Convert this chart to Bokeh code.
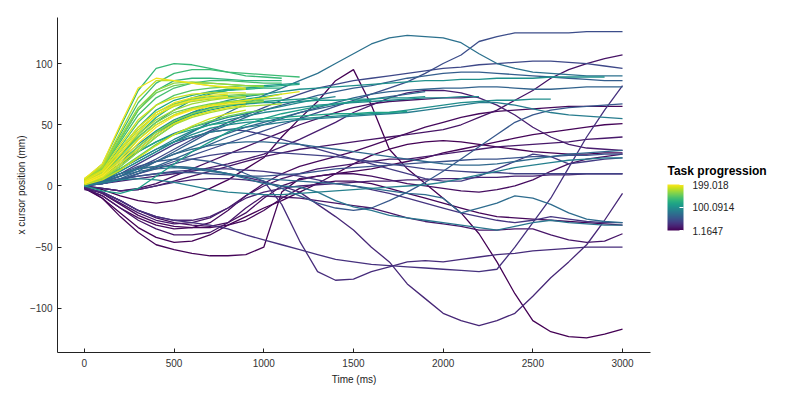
from bokeh.plotting import figure
from bokeh.models import (ColumnDataSource, LinearColorMapper, ColorBar, FixedTicker,
                          Range1d, CustomJSTickFormatter)
from bokeh.palettes import Viridis256
from bokeh.embed import file_html
from bokeh.resources import INLINE

# ---- data -------------------------------------------------------------
time_ms = list(range(0, 3100, 100))  # sample times of every trial (ms)

# task progression value of each trial (colour scale)
progression = [1.1647, 2.2, 3.5, 5.0, 6.0, 8.5, 10.0, 11.5, 13.0, 15.0, 17.0, 20.0,
               23.0, 26.0, 29.0, 32.0, 36.0, 40.0, 44.0, 48.0, 52.0, 56.0, 60.0,
               64.0, 66.0, 68.0, 71.0, 75.0, 79.0, 84.0, 87.0,
               92.0, 95.0, 98.0, 100.0914, 104.0, 107.0, 110.0, 113.0, 116.0,
               119.0, 122.0, 126.0, 130.0, 134.0, 137.0, 141.0, 144.0, 148.0, 151.0,
               153.0, 155.0, 158.0, 161.0, 164.0, 167.0, 170.0, 173.0, 176.0, 179.0,
               183.0, 185.0, 188.0, 190.0, 192.0, 195.0, 197.0, 199.018]

# x cursor position (mm) of each trial, one value per 100 ms
trial_01 = [0, -3, -8, -12, -14, -12, -8, -2, 5, 14, 23, 40, 55, 69, 86, 95, 66, 30, 14, 2, -10, -22, -39, -62, -88, -110, -119, -123, -124, -121, -117]
trial_02 = [-1, -10, -22, -34, -42, -46, -45, -40, -32, -25, -18, -12, -5, 2, 10, 18, 25, 30, 34, 36, 37, 36, 34, 32, 30, 28, 27, 26, 26, 27, 27]
trial_03 = [-2, -10, -25, -38, -48, -52, -55, -57, -57, -56, -50, -5, 6, 8, 10, 12, 14, 17, 20, 23, 27, 30, 33, 36, 39, 42, 44, 46, 48, 50, 51]
trial_04 = [-1, -6, -15, -24, -30, -33, -34, -34, -32, -28, -20, -10, -2, 2, 4, 4, 2, -2, -6, -10, -14, -18, -22, -25, -26, -27, -28, -29, -30, -31, -32]
trial_05 = [-2, -8, -18, -26, -32, -35, -34, -30, -20, -8, 2, 10, 16, 20, 24, 28, 33, 38, 43, 48, 52, 56, 59, 61, 62, 63, 64, 65, 65, 65, 65]
trial_06 = [-3, -5, -12, -20, -26, -30, -32, -33, -30, -22, -10, 0, 5, 8, 10, 10, 8, 5, 2, 0, -2, -4, -5, -3, 0, 5, 12, 18, 22, 24, 26]
trial_07 = [0, -2, -4, -2, 2, 8, 14, 20, 26, 32, 38, 44, 50, 55, 60, 64, 67, 69, 70, 71, 72, 72, 73]
trial_08 = [-1, -2, -4, -3, 0, 4, 8, 12, 16, 20, 24, 27, 30, 32, 34, 36, 38, 40, 42, 44, 46, 50, 56, 62, 70, 78, 88, 95, 100, 104, 107]
trial_09 = [-2, -8, -18, -28, -35, -40, -40, -38, -30, -18, -8, -9, -10, -12, -14, -16, -18, -22, -26, -29, -31, -33, -36, -36, -35, -35, -40, -44, -46, -45, -39]
trial_10 = [-1, -6, -14, -22, -28, -31, -30, -26, -18, -8, 0, 6, 10, 14, 16, 18, 20, 22, 22, 24, 26, 28, 30, 32, 33, 34, 35, 36, 38, 39, 40]
trial_11 = [0, 2, 4, 6, 8, 10, 12, 15, 18, 22, 26, 32, 38, 45, 52, 60, 66, 72, 76, 78, 78, 76, 72, 66, 58, 48, 40, 34, 31, 30, 29]
trial_12 = [-2, -5, -12, -20, -25, -28, -28, -25, -18, -10, -5, -2, 0, 1, 2, 3, 4, 4, 5, 5, 6, 6, 7, 7, 8, 8, 9, 9, 10, 10, 10]
trial_13 = [0, -2, -4, -3, 0, 3, 5, 6, 6, 5, 3, 0, -5, -15, -25, -36, -50, -62, -80, -92, -104, -110, -114, -110, -104, -90, -75, -62, -48, -28, -6]
trial_14 = [1, 5, 10, 14, 16, 16, 15, 13, 10, 7, 4, -15, -45, -70, -77, -76, -70, -66, -62, -61, -62, -60, -58, -56, -55, -53, -52, -51, -50, -50, -50]
trial_15 = [-1, -5, -12, -20, -25, -28, -30, -32, -35, -40, -44, -48, -52, -56, -60, -62, -64, -65, -66, -67, -68, -69, -70, -68, -50, -30, -10, 15, 40, 62, 82]
trial_16 = [1, 3, 6, 8, 10, 12, 13, 14, 14, 13, 12, 10, 8, 5, 2, 0, -3, -6, -10, -14, -18, -22, -25, -28, -30, -28, -25, -27, -29, -30, -30]
trial_17 = [0, 4, 10, 18, 26, 34, 40, 44, 46, 45, 42, 38, 34, 30, 26, 22, 18, 14, 10, 6, 4, 4, 8, 14, 20, 26, 24, 18, 20, 22, 23]
trial_18 = [0, 2, 5, 10, 14, 18, 22, 25, 27, 28, 28, 27, 26, 25, 24, 22, 20, 18, 16, 14, 13, 12, 11, 11, 10, 10, 10, 10, 10, 10, 10]
trial_19 = [1, 3, 8, 15, 22, 30, 38, 45, 52, 58, 64, 70, 75, 80, 83, 86, 88, 90, 92, 94, 96, 97, 99, 100, 101, 102, 102, 101, 100, 98, 96]
trial_20 = [0, 2, 5, 10, 15, 20, 25, 30, 35, 40, 45, 50, 55, 60, 65, 70, 75, 80, 85, 92, 100, 107, 118, 122, 125, 125, 125, 125, 126, 126, 126]
trial_21 = [0, 2, 5, 8, 10, 11, 11, 10, 9, 8, 8, 9, 10, 12, 14, 15, 16, 17, 18, 19, 20, 21, 22, 22, 23, 24, 24, 25, 25, 26, 26]
trial_22 = [1, 4, 10, 16, 20, 22, 22, 20, 16, 10, 4, -2, -8, -14, -18, -20, -18, -12, -5, 3, 12, 22, 32, 42, 52, 58, 62, 64, 65, 66, 67]
trial_23 = [2, 2, 6, 12, 20, 28, 36, 44, 50, 56, 62, 66, 70, 74, 77, 80, 82, 85, 88, 90, 92, 93, 93, 92, 91, 90, 89, 88, 87, 86, 86]
trial_24 = [1, 2, 5, 10, 16, 22, 28, 34, 40, 45, 50, 55, 60, 64, 68, 72, 75, 77, 78, 79, 80, 80, 81, 81, 80, 79, 79, 80, 81, 81, 81]
trial_25 = [0, 3, 8, 14, 20, 26, 32, 38, 43, 48, 52, 56, 60, 63, 66, 69, 71, 73, 75, 77]
trial_26 = [0, 3, 8, 14, 20, 26, 30, 33, 35, 36, 36, 35, 34, 32, 30, 28, 26, 24, 22, 20, 18, 17, 17, 18, 20, 22, 24, 26, 27, 28, 29]
trial_27 = [2, 4, 8, 12, 14, 15, 14, 12, 10, 8, 6, 5, 4, 3, 2, 0, -2, -4, -6, -7, -10, -22, -18, -14, -8, -10, -15, -22, -27, -29, -30]
trial_28 = [1, 5, 12, 20, 28, 36, 44, 52, 60, 67, 74, 80, 86, 92, 100, 108, 116, 121, 123, 122, 121, 117, 108, 100, 96, 93, 92, 91, 90, 90, 90]
trial_29 = [0, 5, 10, 14, 16, 16, 15, 13, 10, 6, 2, 0, -1, -5, -12, -17, -20, -24, -26, -28, -30, -32, -34, -36, -33, -30, -28, -30, -31, -32, -32]
trial_30 = [2, 6, 14, 22, 30, 36, 40, 44, 46, 48, 50, 52, 54, 55, 56, 57, 58, 59, 60, 62, 64, 66, 68, 68, 66, 63, 60, 58, 57, 56, 55]
trial_31 = [0, 3, 5, 6, 5, 3, 0, -3, -5, -6, -7, -7, -6, -5, -4, -3, -2, -1, 0, 1, 3, 6, 9, 12, 15, 17, 19, 21, 22, 23, 23]
trial_32 = [2, 8, 18, 28, 36, 43, 48, 52, 56, 59, 62, 65, 68, 71, 73]
trial_33 = [1, 6, 14, 22, 30, 38, 45, 50, 54, 57, 60, 62, 64, 66, 67, 68, 69, 70, 71, 72, 72, 73, 73]
trial_34 = [3, 5, 12, 20, 28, 36, 42, 47, 50, 52, 53, 54, 55, 56, 57, 58, 59, 60, 62, 64, 66, 68, 69, 70, 70, 71, 71]
trial_35 = [2, 8, 18, 30, 42, 52, 60, 66, 70, 73, 75, 77, 79, 80, 81, 82, 83, 84, 85, 86, 86, 87, 87, 88, 88, 88, 89, 89, 89, 89]
trial_36 = [3, 10, 22, 34, 45, 54, 60, 64, 66, 67, 68, 68, 69, 70, 70, 71, 71, 72, 72, 73]
trial_37 = [4, 12, 26, 40, 52, 62, 70, 75, 78, 80, 82, 83, 84]
trial_38 = [2, 9, 20, 32, 44, 52, 58, 62, 65, 67, 69, 70, 71, 72]
trial_39 = [0, -4, -6, -2, 8, 18, 28, 36, 44, 50, 55, 59, 62, 65, 67, 69, 70]
trial_40 = [3, 8, 18, 28, 36, 42, 46, 50, 52, 54, 55, 56, 57, 58, 59, 59, 60, 60, 61]
trial_41 = [2, 6, 16, 28, 40, 50, 58, 64, 68, 71, 73, 75]
trial_42 = [3, 12, 30, 48, 62, 70, 74, 77, 79, 80, 81, 82, 83]
trial_43 = [2, 10, 25, 42, 56, 66, 72, 76, 78, 79, 80, 80]
trial_44 = [4, 15, 38, 62, 78, 86, 88, 88, 87, 86, 86, 86]
trial_45 = [5, 18, 48, 78, 96, 100, 99, 96, 93, 90, 89, 88]
trial_46 = [4, 16, 42, 68, 84, 92, 95, 95, 93, 92, 91, 90, 89]
trial_47 = [3, 14, 36, 58, 72, 80, 84, 86, 86, 85, 84, 84]
trial_48 = [2, 10, 26, 44, 58, 66, 70, 72, 73, 74, 75]
trial_49 = [4, 12, 32, 52, 66, 74, 78, 80, 81, 82, 82]
trial_50 = [3, 8, 22, 38, 50, 58, 63, 66, 68, 69, 70]
trial_51 = [1, 6, 14, 24, 34, 42, 48, 53, 57, 60, 62]
trial_52 = [5, 14, 38, 62, 76, 82, 84, 84, 83, 82, 82]
trial_53 = [3, 9, 24, 40, 52, 60, 64, 67, 69, 70, 71, 72]
trial_54 = [4, 12, 30, 48, 60, 67, 71, 73, 74, 75, 75]
trial_55 = [2, 7, 18, 32, 44, 53, 59, 63, 66, 68, 69]
trial_56 = [5, 15, 40, 64, 78, 84, 85, 84, 83, 82, 81]
trial_57 = [3, 10, 26, 42, 54, 62, 67, 70, 72, 73]
trial_58 = [2, 6, 16, 28, 40, 50, 56, 60, 63, 65, 66, 67]
trial_59 = [4, 11, 28, 46, 58, 65, 69, 71, 72, 72]
trial_60 = [6, 16, 44, 72, 86, 86, 84, 82, 80, 79]
trial_61 = [1, 5, 13, 23, 33, 42, 49, 55, 59, 62]
trial_62 = [5, 13, 34, 54, 66, 72, 75, 76, 76, 76]
trial_63 = [2, 7, 18, 30, 42, 51, 57, 61, 64, 66]
trial_64 = [3, 9, 22, 38, 50, 58, 63, 66, 68, 70, 72, 75, 77]
trial_65 = [4, 12, 30, 48, 60, 68, 72, 74, 75]
trial_66 = [6, 18, 50, 80, 88, 86, 84, 82, 81, 80]
trial_67 = [3, 10, 26, 44, 58, 66, 70, 72, 73]
trial_68 = [2, 8, 20, 35, 48, 57, 62, 65, 67, 68]

trials = [trial_01, trial_02, trial_03, trial_04, trial_05, trial_06, trial_07, trial_08,
          trial_09, trial_10, trial_11, trial_12, trial_13, trial_14, trial_15, trial_16,
          trial_17, trial_18, trial_19, trial_20, trial_21, trial_22, trial_23, trial_24,
          trial_25, trial_26, trial_27, trial_28, trial_29, trial_30, trial_31, trial_32,
          trial_33, trial_34, trial_35, trial_36, trial_37, trial_38, trial_39, trial_40,
          trial_41, trial_42, trial_43, trial_44, trial_45, trial_46, trial_47, trial_48,
          trial_49, trial_50, trial_51, trial_52, trial_53, trial_54, trial_55, trial_56,
          trial_57, trial_58, trial_59, trial_60, trial_61, trial_62, trial_63, trial_64,
          trial_65, trial_66, trial_67, trial_68]

colorbar_ticks = [1.1647, 100.0914, 199.018]

# ---- figure -----------------------------------------------------------
FONT = "Liberation Sans"
xs = [time_ms[:len(v)] for v in trials]
source = ColumnDataSource(dict(xs=xs, ys=trials, prog=progression))
mapper = LinearColorMapper(palette=Viridis256, low=colorbar_ticks[0], high=colorbar_ticks[-1])

p = figure(width=800, height=400, output_backend="svg", toolbar_location=None,
           x_range=Range1d(-150, 3156), y_range=Range1d(-136, 137.6),
           min_border_left=57, min_border_right=150, min_border_top=17, min_border_bottom=48)
p.outline_line_color = None
p.grid.visible = False
p.background_fill_color = "white"

p.multi_line(xs="xs", ys="ys", source=source, line_width=1.3,
             line_color={"field": "prog", "transform": mapper})

for ax in (p.xaxis, p.yaxis):
    ax.major_tick_in = 4
    ax.major_tick_out = 0
    ax.minor_tick_line_color = None
    ax.axis_line_color = "#222222"
    ax.major_tick_line_color = "#222222"
    ax.major_label_text_font = FONT
    ax.major_label_text_font_size = "10px"
    ax.major_label_text_color = "#333333"
    ax.axis_label_text_font = FONT
    ax.axis_label_text_font_size = "10px"
    ax.axis_label_text_font_style = "normal"
    ax.axis_label_text_color = "#222222"

p.xaxis.ticker = FixedTicker(ticks=[0, 500, 1000, 1500, 2000, 2500, 3000])
p.yaxis.ticker = FixedTicker(ticks=[-100, -50, 0, 50, 100])
p.xaxis.axis_label = "Time (ms)"
p.yaxis.axis_label = "x cursor position (mm)"
p.xaxis.major_label_standoff = 6
p.yaxis.major_label_standoff = 5
p.xaxis.axis_label_standoff = 4
p.yaxis.axis_label_standoff = 0

cb = ColorBar(color_mapper=mapper, ticker=FixedTicker(ticks=colorbar_ticks),
              formatter=CustomJSTickFormatter(code="return String(tick);"),
              major_label_text_font=FONT, major_label_text_font_size="10px",
              major_label_text_color="#222222",
              major_tick_line_color="white", major_tick_in=4, major_tick_out=0,
              minor_tick_line_color=None, bar_line_color=None,
              width=16, height=46, padding=0, margin=0, label_standoff=9,
              location=(610, 122), background_fill_color=None, border_line_color=None)
p.add_layout(cb, "center")

# legend title: an invisible horizontal colour bar that only shows its title
cb_title = ColorBar(color_mapper=mapper, orientation="horizontal", ticker=FixedTicker(ticks=[]),
                    title="Task progression", title_text_font=FONT,
                    title_text_font_size="12px", title_text_font_style="bold",
                    title_text_color="#000000", title_standoff=0,
                    scale_alpha=0, major_tick_line_color=None, minor_tick_line_color=None,
                    major_label_text_alpha=0, bar_line_color=None,
                    width=100, height=1, padding=0, margin=0,
                    location=(610, 174), background_fill_color=None, border_line_color=None)
p.add_layout(cb_title, "center")

open("out.html", "w").write(file_html(p, INLINE))
